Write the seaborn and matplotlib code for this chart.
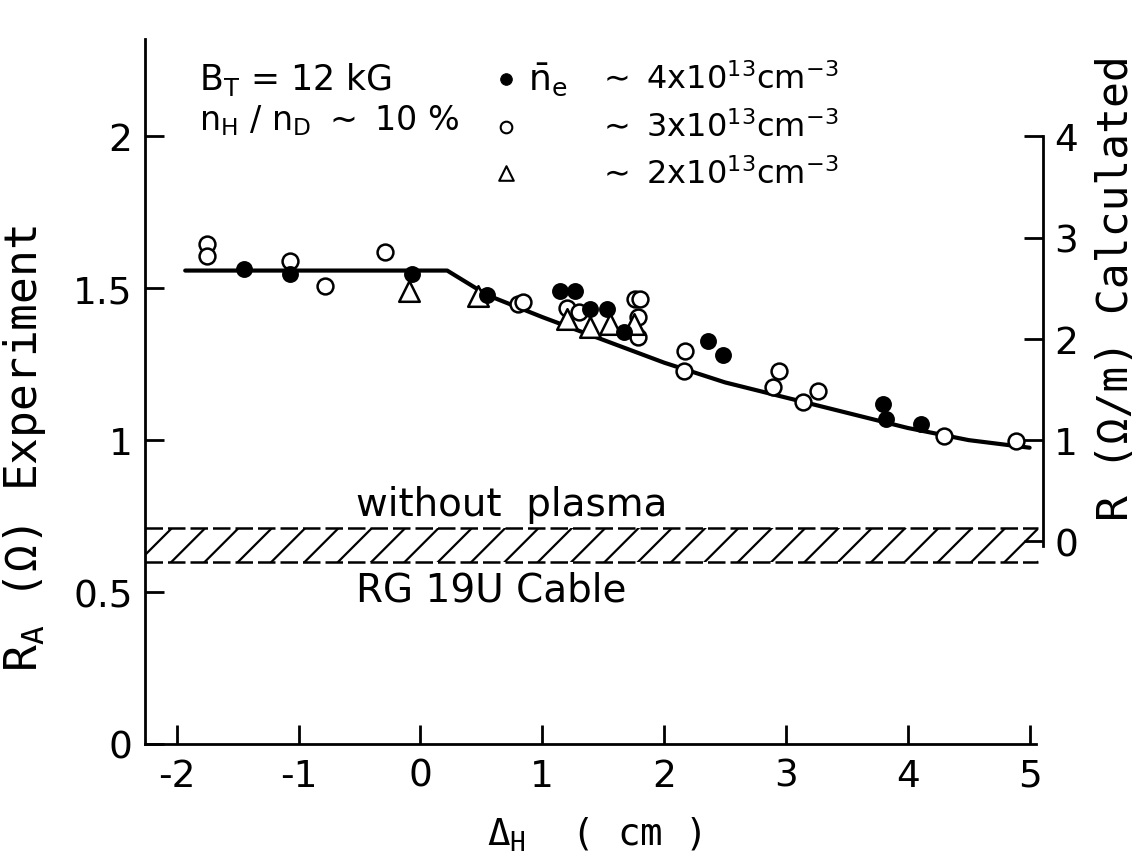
import matplotlib
matplotlib.use("Agg")
import matplotlib.pyplot as plt
import seaborn as sns

# Measured antenna resistance R_A (Ohm) against Delta_H (cm), three density groups
dh_4e13 = [-1.45, -1.07, -0.07, 0.55, 1.15, 1.27, 1.39, 1.53, 1.67, 2.36, 2.48, 3.80, 3.82, 4.11]
ra_4e13 = [1.562, 1.546, 1.546, 1.477, 1.49, 1.49, 1.43, 1.43, 1.355, 1.326, 1.28, 1.118, 1.069, 1.053]

dh_3e13 = [-1.75, -1.75, -1.07, -0.78, -0.29, 0.80, 0.84, 1.20, 1.30, 1.76, 1.80, 1.79, 1.79,
           2.17, 2.16, 2.94, 2.89, 3.26, 3.14, 4.30, 4.89]
ra_3e13 = [1.645, 1.605, 1.589, 1.507, 1.618, 1.447, 1.454, 1.434, 1.42, 1.464, 1.464, 1.405, 1.339,
           1.293, 1.227, 1.227, 1.174, 1.161, 1.125, 1.013, 0.997]

dh_2e13 = [-0.09, 0.47, 1.20, 1.39, 1.56, 1.75]
ra_2e13 = [1.49, 1.474, 1.398, 1.372, 1.382, 1.382]

# Calculated curve, expressed on the experiment (left) scale
curve_dh = [-1.93, 0.22, 0.55, 1.0, 1.5, 2.0, 2.5, 3.0, 3.5, 4.0, 4.5, 5.0]
curve_ra = [1.558, 1.558, 1.477, 1.405, 1.33, 1.255, 1.19, 1.14, 1.09, 1.04, 1.00, 0.975]

# Cable-only resistance band (without plasma)
cable_band = [0.60, 0.71]

x_ticks = [-2, -1, 0, 1, 2, 3, 4, 5]
left_ticks = [0, 0.5, 1, 1.5, 2]
left_labels = ["0", "0.5", "1", "1.5", "2"]
right_ticks = [0, 1, 2, 3, 4]
right_labels = ["0", "1", "2", "3", "4"]

legend_labels = [r"$\sim$ 4x10$^{13}$cm$^{-3}$", r"$\sim$ 3x10$^{13}$cm$^{-3}$",
                 r"$\sim$ 2x10$^{13}$cm$^{-3}$"]

sns.set_theme(style="ticks")
SANS = "DejaVu Sans"
MONO = "DejaVu Sans Mono"
plt.rcParams["font.family"] = [SANS]
plt.rcParams["mathtext.fontset"] = "dejavusans"
plt.rcParams["mathtext.default"] = "regular"
plt.rcParams["hatch.linewidth"] = 1.6
for key in ["text.color", "axes.labelcolor", "xtick.color", "ytick.color", "axes.edgecolor"]:
    plt.rcParams[key] = "black"

W, H = 1145, 862
fig = plt.figure(figsize=(W / 100, H / 100), dpi=100)
fig.patch.set_facecolor("white")
ax = fig.add_axes([145 / W, 117 / H, (1043 - 145) / W, (745 - 40) / H])
ax.set_facecolor("white")

XMIN, XMAX = -2.26, 5.11
YMIN, YMAX = 0.0, 2.32
ax.set_xlim(XMIN, XMAX)
ax.set_ylim(YMIN, YMAX)

# hatched cable band with dashed edges
ax.fill_between([XMIN, XMAX - 0.04], cable_band[0], cable_band[1], facecolor="none",
                edgecolor="black", hatch="/", linewidth=0, zorder=1)
for yb in cable_band:
    ax.plot([XMIN, XMAX - 0.04], [yb, yb], color="black", lw=1.8, ls=(0, (7, 2)), zorder=1)

# calculated curve
sns.lineplot(x=curve_dh, y=curve_ra, color="black", lw=3, sort=False, ax=ax, zorder=2)

# data points
sns.scatterplot(x=dh_3e13, y=ra_3e13, marker="o", s=130, color="black", facecolor="white",
                edgecolor="black", linewidth=1.8, ax=ax, zorder=3)
sns.scatterplot(x=dh_2e13, y=ra_2e13, marker="^", s=220, color="black", facecolor="white",
                edgecolor="black", linewidth=1.8, ax=ax, zorder=3)
sns.scatterplot(x=dh_4e13, y=ra_4e13, marker="o", s=120, color="black", facecolor="black",
                edgecolor="black", linewidth=1.2, ax=ax, zorder=4)

# legend drawn as marks and text in data coordinates
leg_x = 0.70
leg_y = [2.19, 2.03, 1.878]
sns.scatterplot(x=[leg_x], y=[leg_y[0]], marker="o", s=70, color="black", facecolor="black",
                edgecolor="black", ax=ax)
sns.scatterplot(x=[leg_x], y=[leg_y[1]], marker="o", s=70, color="black", facecolor="white",
                edgecolor="black", linewidth=1.5, ax=ax)
sns.scatterplot(x=[leg_x], y=[leg_y[2]], marker="^", s=110, color="black", facecolor="white",
                edgecolor="black", linewidth=1.5, ax=ax)
ax.text(0.88, leg_y[0], r"$\bar{n}_e$", fontsize=26, va="center", ha="left")
for yy, lab in zip(leg_y, legend_labels):
    ax.text(1.45, yy, lab, fontsize=23, va="center", ha="left")

ax.text(-1.82, 2.19, "B$_T$ = 12 kG", fontsize=25, va="center", ha="left")
ax.text(-1.82, 2.056, r"n$_H$ / n$_D$ $\sim$ 10 %", fontsize=24, va="center", ha="left")
ax.text(-0.53, 0.79, "without  plasma", fontsize=28, va="center", ha="left")
ax.text(-0.53, 0.51, "RG 19U Cable", fontsize=28, va="center", ha="left")

# axes styling
for side in ["top", "right"]:
    ax.spines[side].set_visible(False)
ax.spines["left"].set_linewidth(2)
ax.spines["bottom"].set_linewidth(2)
ax.spines["bottom"].set_bounds(XMIN, 5.05)
ax.set_xticks(x_ticks)
ax.set_xticklabels([str(t) for t in x_ticks])
ax.set_yticks(left_ticks)
ax.set_yticklabels(left_labels)
ax.tick_params(axis="both", direction="in", length=14, width=2, labelsize=27)
ax.tick_params(axis="x", pad=10)
ax.tick_params(axis="y", pad=9)
ax.set_xlabel("Δ$_H$  ( cm )", fontsize=27, family=MONO)
ax.xaxis.set_label_coords(0.5, -0.10)
ax.set_ylabel("R$_A$ (Ω) Experiment", fontsize=32, family=MONO)
ax.yaxis.set_label_coords(-0.108, 0.42)

# calculated scale on the right: R = 3 R_A - 2
ax2 = ax.twinx()
ax2.set_ylim(3 * YMIN - 2, 3 * YMAX - 2)
for side in ["top", "left", "bottom"]:
    ax2.spines[side].set_visible(False)
ax2.spines["right"].set_linewidth(2)
ax2.spines["right"].set_bounds(-0.05, 4)
ax2.set_yticks(right_ticks)
ax2.set_yticklabels(right_labels)
ax2.tick_params(axis="y", direction="in", length=14, width=2, labelsize=27, pad=8)
ax2.set_ylabel("R (Ω/m) Calculated", fontsize=31, family=MONO)
ax2.yaxis.set_label_coords(1.058, 0.648)

fig.savefig("out.png", dpi=100, facecolor="white")
